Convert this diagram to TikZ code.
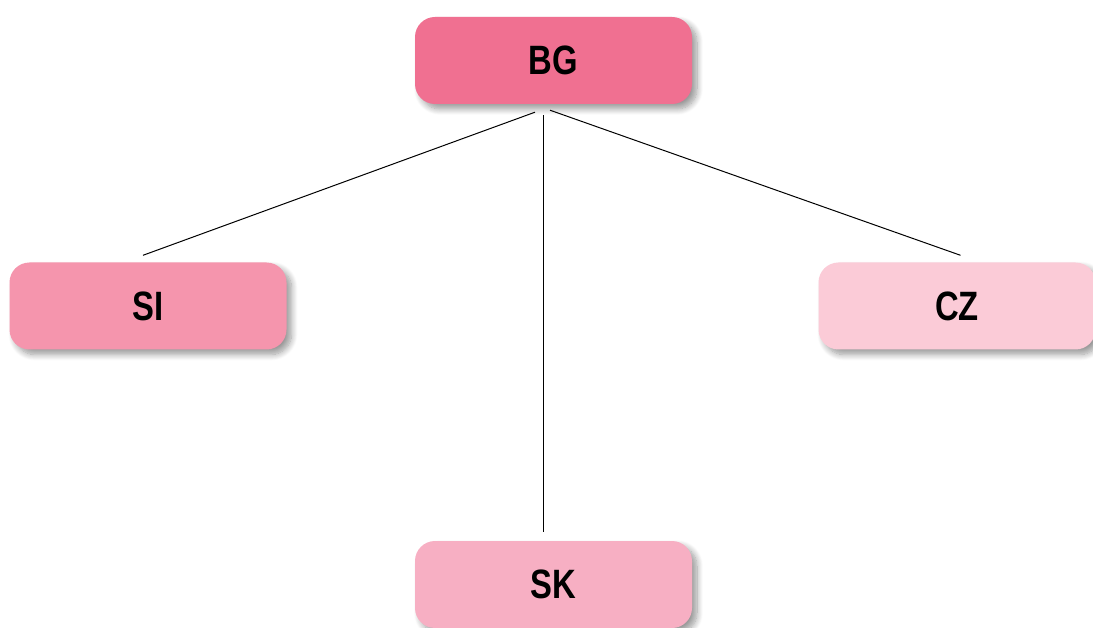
\documentclass[tikz,border=0pt]{standalone}
\usepackage{fontspec}
\newfontfamily\boxfont{Liberation Sans}[FakeStretch=0.8]
\usetikzlibrary{shadows.blur}

\definecolor{bgpink}{RGB}{240,112,145}
\definecolor{sipink}{RGB}{245,149,173}
\definecolor{skpink}{RGB}{247,175,195}
\definecolor{czpink}{RGB}{251,203,215}

\begin{document}
\begin{tikzpicture}[
        x=1pt, y=-1pt,
        country/.style={
            minimum width=277pt,
            minimum height=87pt,
            rounded corners=20pt,
            font=\boxfont\bfseries\fontsize{41}{41}\selectfont,
            blur shadow={shadow xshift=5pt, shadow yshift=-5pt,
                shadow blur radius=6pt, shadow blur steps=10,
                shadow opacity=40}
        }
    ]
            \useasboundingbox (0,0) rectangle (1093,628);

            \node[
                country,
                fill=bgpink,
                name=bg
            ] at (553.5,60.5) {BG};

            \node[
                country,
                fill=sipink,
                name=si
            ] at (148,306) {SI};

            \node[
                country,
                fill=czpink,
                name=cz
            ] at (957,306) {CZ};

            \node[
                country,
                fill=skpink,
                name=sk
            ] at (553.5,584.5) {SK};

            \draw[line width=1pt] ([xshift=-18.5pt,yshift=-8pt]bg.south) -- ([xshift=-5pt,yshift=7pt]si.north);
            \draw[line width=1pt] ([xshift=-10.5pt,yshift=-11pt]bg.south) -- ([xshift=-10.5pt,yshift=9pt]sk.north);
            \draw[line width=1pt] ([xshift=-3.5pt,yshift=-6pt]bg.south) -- ([xshift=3.5pt,yshift=7pt]cz.north);
        \end{tikzpicture}
\end{document}
